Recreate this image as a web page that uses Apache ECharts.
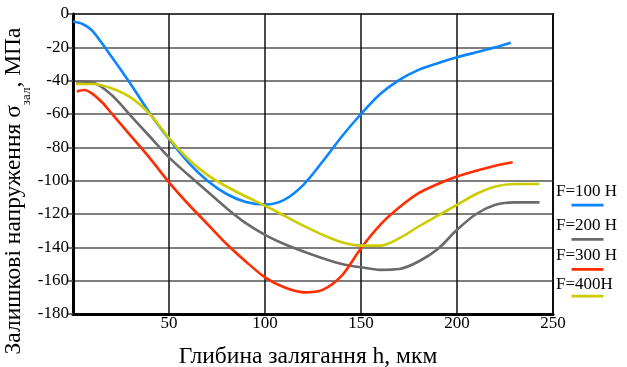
<!DOCTYPE html>
<html>
<head>
<meta charset="utf-8">
<script src="https://cdn.jsdelivr.net/npm/echarts@6/dist/echarts.min.js"></script>
<style>
html,body{margin:0;padding:0;background:#fff;}
#chart{width:627px;height:367px;}
</style>
</head>
<body>
<div id="chart"></div>
<script>
// Axis ticks
const xTicks = [0, 50, 100, 150, 200, 250];
const yTicks = [0, -20, -40, -60, -80, -100, -120, -140, -160, -180];

// Titles
const xTitle = 'Глибина залягання h, мкм';
const yTitleParts = ['Залишкові напруження σ', 'зал', ', МПа'];

// Series names
const seriesNames = ['F=100 Н', 'F=200 Н', 'F=300 Н', 'F=400Н'];

// F=100 Н
const h100 = [0, 5, 10, 20, 30, 40, 50, 60, 70, 80, 90, 100, 110, 120, 130, 140, 150, 160, 170, 180, 190, 200, 210, 220, 228];
const s100 = [-4.5, -6, -10, -25.5, -42, -59.5, -75, -89, -100, -108, -112.8, -114.3, -111.5, -102.5, -88.5, -73.5, -60, -48, -39.5, -33.5, -29.5, -26, -23, -20, -17.2];

// F=200 Н
const h200 = [1.5, 10, 20, 30, 40, 50, 60, 70, 80, 90, 100, 110, 120, 130, 140, 150, 160, 170, 180, 190, 200, 210, 220, 230, 243];
const s200 = [-40.5, -41, -48.5, -61, -73.5, -86, -96.5, -106.5, -116.5, -125.5, -132.5, -138, -142.5, -146.5, -150, -152, -153.5, -153, -148.5, -141, -129.5, -120, -114.5, -113, -113];

// F=300 Н
const h300 = [2, 6, 10, 15, 20, 30, 40, 50, 60, 70, 80, 90, 100, 110, 120, 130, 140, 150, 160, 170, 180, 190, 200, 210, 220, 229];
const s300 = [-46.5, -45.6, -47.8, -52.8, -59.5, -73, -86.5, -101, -114, -126, -138, -148.5, -158, -164, -167, -165.5, -157, -140.5, -126.5, -116, -107.5, -102, -97.5, -94, -91, -89];

// F=400Н
const h400 = [1.5, 10, 20, 30, 40, 50, 60, 70, 80, 90, 100, 110, 120, 130, 140, 150, 160, 170, 180, 190, 200, 210, 220, 230, 243];
const s400 = [-42, -42, -44.5, -50, -60, -74.5, -87, -96.5, -103.5, -109.5, -115, -121, -127, -132.5, -137, -139, -139, -134.5, -127.5, -121, -114.5, -108, -103.5, -102, -102];

const colors = ['#0A84FF', '#6A6A6A', '#FF2D00', '#CCCC00'];

function zip(xs, ys) { return xs.map((x, i) => [x, ys[i]]); }
const allData = [zip(h100, s100), zip(h200, s200), zip(h300, s300), zip(h400, s400)];

const FONT = 'Liberation Serif';

const chart = echarts.init(document.getElementById('chart'), null, {renderer: 'canvas'});

const graphics = [];

// legend (text with coloured underline), placed to the right of the plot
const legendTextY = [191.5, 225.7, 255.3, 284.7];
const legendLineY = [205, 239.3, 269.3, 296];
seriesNames.forEach((n, i) => {
  graphics.push({
    type: 'text', x: 556, y: legendTextY[i],
    style: {text: n, fontFamily: FONT, fontSize: 17, fill: '#000', verticalAlign: 'middle', align: 'left'}
  });
  graphics.push({
    type: 'rect', x: 571.5, y: legendLineY[i] - 1.3,
    shape: {width: 32, height: 2.7}, style: {fill: colors[i]}
  });
});

// rotated y-axis title with subscript
const mainFs = 23.5, subFs = 13;
const ctx = document.createElement('canvas').getContext('2d');
function tw(t, fs) { ctx.font = fs + 'px "' + FONT + '"'; return ctx.measureText(t).width; }
const partFs = [mainFs, subFs, mainFs];
const widths = yTitleParts.map((t, i) => tw(t, partFs[i]));
const totalW = widths.reduce((a, b) => a + b, 0);
const centerY = 191;
let cursor = centerY + totalW / 2;
const baseX = [13.8, 27, 13.8];
yTitleParts.forEach((t, i) => {
  graphics.push({
    type: 'text', x: baseX[i], y: cursor, rotation: Math.PI / 2,
    style: {text: t, fontFamily: FONT, fontSize: partFs[i], fill: '#000', align: 'left', verticalAlign: 'middle'}
  });
  cursor -= widths[i];
});

const option = {
  backgroundColor: '#fff',
  animation: false,
  grid: {left: 73, right: 74, top: 14, bottom: 53, show: true, borderColor: '#000', borderWidth: 2,
    containLabel: false, outerBoundsMode: 'none'},
  xAxis: {
    type: 'value', min: 0, max: 250, interval: 50,
    name: xTitle, nameLocation: 'middle', nameGap: 31,
    nameTextStyle: {fontFamily: FONT, fontSize: 23.5, color: '#000', padding: [0, 10, 0, 0]},
    axisLine: {show: true, onZero: false, lineStyle: {color: '#000', width: 3}},
    axisTick: {show: false},
    axisLabel: {fontFamily: FONT, fontSize: 17, color: '#000', margin: 1,
      formatter: v => (v === 0 ? '' : String(v))},
    splitLine: {show: true, lineStyle: {color: '#111', width: 1.5}}
  },
  yAxis: {
    type: 'value', min: -180, max: 0, interval: 20,
    axisLine: {show: true, onZero: false, lineStyle: {color: '#000', width: 3}},
    axisTick: {show: true, length: 5, lineStyle: {color: '#444', width: 1.5}},
    axisLabel: {fontFamily: FONT, fontSize: 17, color: '#000', margin: 4},
    splitLine: {show: true, lineStyle: {color: '#555', width: 1.5}}
  },
  graphic: graphics,
  series: allData.map((d, i) => ({
    name: seriesNames[i], type: 'line', data: d, smooth: 0.3,
    showSymbol: false, symbol: 'none',
    lineStyle: {color: colors[i], width: 2.6},
    z: 3 + i
  }))
};
chart.setOption(option);
</script>
</body>
</html>
